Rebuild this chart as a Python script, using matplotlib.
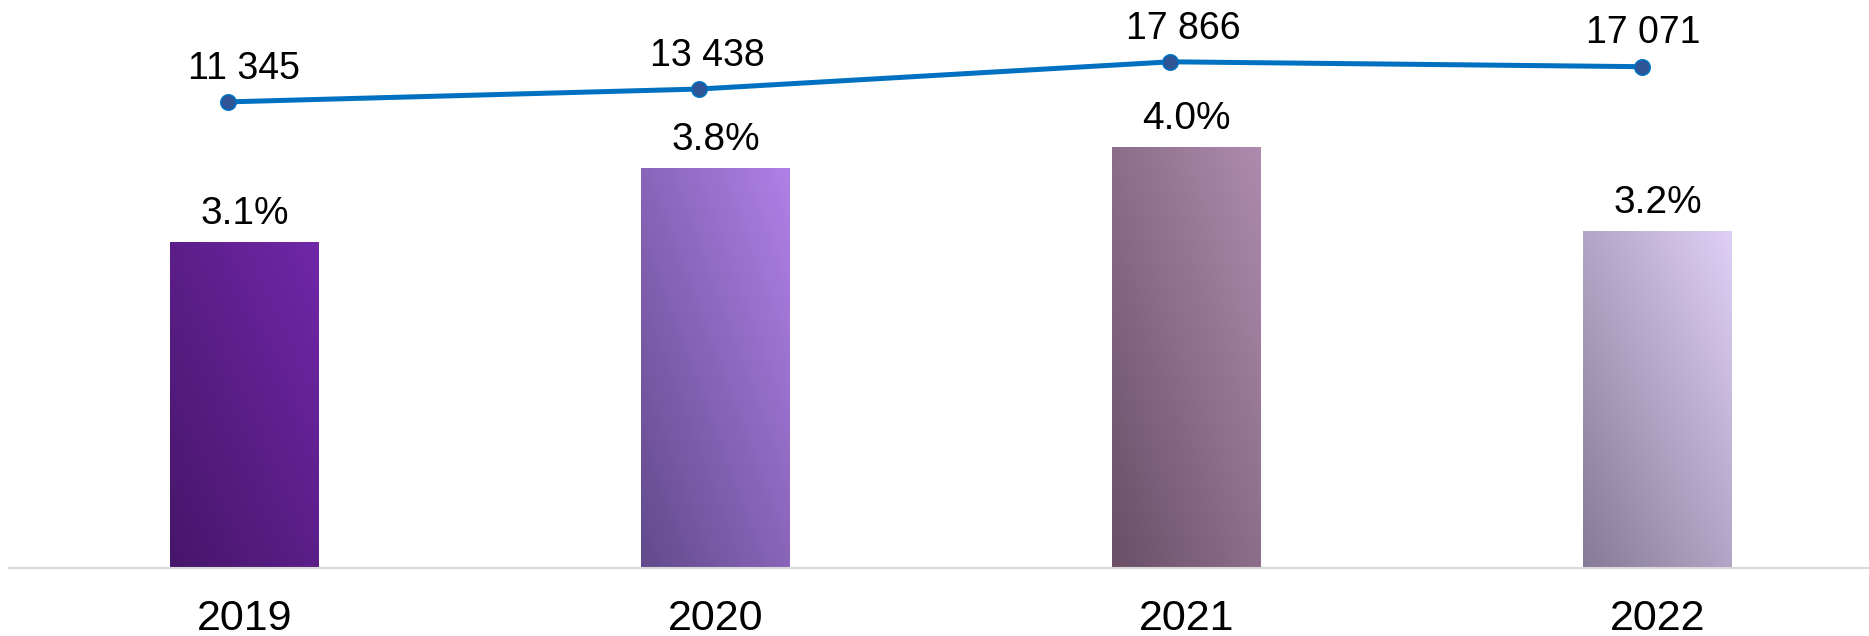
import numpy as np
import matplotlib.pyplot as plt
from matplotlib.colors import LinearSegmentedColormap

plt.rcParams['font.family'] = ['Liberation Sans', 'DejaVu Sans']

years = ['2019', '2020', '2021', '2022']
share = [3.1, 3.8, 4.0, 3.2]              # bars, %
amount = [11345, 13438, 17866, 17071]     # line

# gradient end colours for each bar (bottom-left dark -> top-right light)
bar_dark = ['#46166a', '#624a8b', '#6a4f67', '#857a97']
bar_light = ['#7127a8', '#b080e8', '#ae8bae', '#dfcff5']

fig = plt.figure(figsize=(18.69, 6.36), dpi=100)
ax = fig.add_axes([9 / 1869, 68 / 636, 1 - 9 / 1869, 568 / 636])

x = np.arange(len(years))
width = 0.316

# diagonal gradient texture
gy, gx = np.mgrid[0:1:200j, 0:1:100j]
grad = (gx + gy) / 2

for i, v in enumerate(share):
    cmap = LinearSegmentedColormap.from_list('g%d' % i, [bar_dark[i], bar_light[i]])
    rect = ax.bar(x[i], v, width=width, color='none', edgecolor='none')[0]
    im = ax.imshow(grad, cmap=cmap, origin='lower', aspect='auto',
                   extent=[x[i] - width / 2, x[i] + width / 2, 0, v],
                   interpolation='bicubic', zorder=1)
    im.set_clip_path(rect)
    ax.annotate('%.1f%%' % v, (x[i], v), xytext=(0, 7.5), textcoords='offset points',
                ha='center', va='bottom', fontsize=28, color='#000000')

ax.set_xlim(-0.5, 3.449)
ax.set_ylim(0, 5.4)

for s in ['top', 'right', 'left']:
    ax.spines[s].set_visible(False)
ax.spines['bottom'].set_color('#d9d9d9')
ax.spines['bottom'].set_linewidth(1.5)
ax.set_yticks([])
ax.set_xticks(x)
ax.set_xticklabels(years, fontsize=31)
ax.tick_params(axis='x', length=0, pad=22.5)

# line on its own scale
ax2 = ax.twinx()
ax2.set_ylim(-64499, 27922)
ax2.axis('off')
lx = x - 0.034
ax2.plot(lx, amount, color='#0070c0', lw=3.6, zorder=3,
         marker='o', markersize=11, markerfacecolor='#2f5597', markeredgecolor='#0070c0',
         markeredgewidth=1.2, solid_capstyle='round')
label_dx = [11, 6, 9, 1]
for i, v in enumerate(amount):
    ax2.annotate('{:,}'.format(v).replace(',', ' '), (lx[i], v),
                 xytext=(label_dx[i], 11), textcoords='offset points',
                 ha='center', va='bottom', fontsize=27, color='#000000')
ax2.set_xlim(-0.5, 3.449)

fig.savefig('out.png', dpi=100)
